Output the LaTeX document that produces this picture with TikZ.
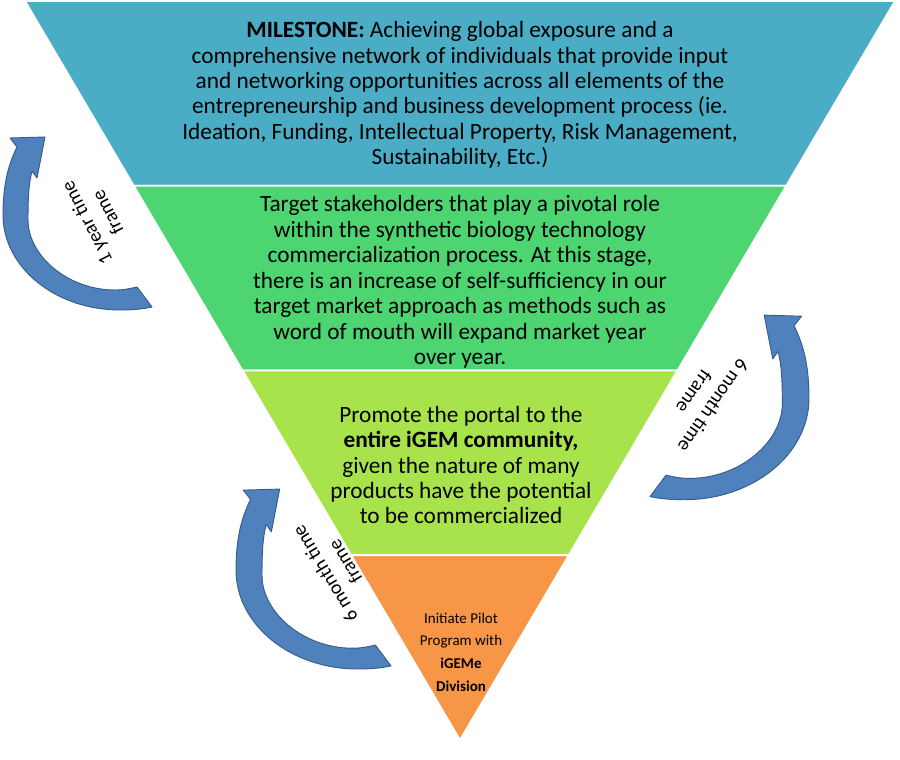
\documentclass[tikz,border=0pt]{standalone}
\usepackage{fontspec}
\setmainfont{Carlito}
\usetikzlibrary{calc}

\definecolor{milestoneblue}{HTML}{4BACC6}
\definecolor{stakegreen}{HTML}{4DD571}
\definecolor{portallime}{HTML}{A9E34B}
\definecolor{pilotorange}{HTML}{F79646}
\definecolor{arrowblue}{HTML}{4F81BD}
\definecolor{arrowedge}{HTML}{385D8A}

\begin{document}
\begin{tikzpicture}[
        x=0.03cm, y=-0.03cm,
        band/.style={draw=white, line width=1.5pt},
        stage/.style={align=center, font=\fontsize{19.9}{21.7}\selectfont},
        pilot/.style={align=center, font=\fontsize{12.8}{19.3}\selectfont},
        timing/.style={align=center, font=\fontsize{16.8}{20}\selectfont},
        turn/.style={fill=arrowblue, draw=arrowedge, line width=0.8pt, line join=round},
        turnarrow/.pic={
            \path[turn] (42,2) -- (7,3) -- (14,12)
                .. controls (5,30) and (0,50) .. (0,80)
                .. controls (0,132) and (52,175) .. (117,175)
                .. controls (130,175) and (140,174) .. (149,172)
                -- (134,152)
                .. controls (125,154) and (120,155) .. (112,155)
                .. controls (64,155) and (25,120) .. (25,85)
                .. controls (25,60) and (26,48) .. (29,36)
                -- (34,43) -- cycle;
        }]
    \useasboundingbox (0,0) rectangle (900,760);
    % funnel corners
    \coordinate (tl) at (25,1);
    \coordinate (tr) at (895,1);
    \coordinate (apex) at (460,740);
    \foreach \f in {25,50,75} {
        \coordinate (l\f) at ($(tl)!0.\f!(apex)$);
        \coordinate (r\f) at ($(tr)!0.\f!(apex)$);
    }
    \path[band, fill=milestoneblue] (tl) -- (tr) -- (r25) -- (l25) -- cycle;
    \path[band, fill=stakegreen] (l25) -- (r25) -- (r50) -- (l50) -- cycle;
    \path[band, fill=portallime] (l50) -- (r50) -- (r75) -- (l75) -- cycle;
    \path[band, fill=pilotorange] (l75) -- (r75) -- (apex) -- cycle;
    % texts
    \node[stage] (milestone) at (460,95) {\textbf{MILESTONE:} Achieving global exposure and a\\
        comprehensive network of individuals that provide input\\
        and networking opportunities across all elements of the\\
        entrepreneurship and business development process (ie.\\
        Ideation, Funding, Intellectual Property, Risk Management,\\
        Sustainability, Etc.)};
    \node[stage] (stakeholders) at (460,282) {Target stakeholders that play a pivotal role\\
        within the synthetic biology technology\\
        commercialization process. At this stage,\\
        there is an increase of self-sufficiency in our\\
        target market approach as methods such as\\
        word of mouth will expand market year\\
        over year.};
    \node[stage] (portal) at (461,465) {Promote the portal to the\\
        \textbf{entire iGEM community,}\\
        given the nature of many\\
        products have the potential\\
        to be commercialized};
    \node[pilot] (pilot) at (461,652) {Initiate Pilot\\Program with\\\textbf{iGEMe}\\\textbf{Division}};
    % time frame arrows
    \pic at (3,135) {turnarrow};
    \pic[xscale=-1.067, yscale=1.067] at (809,313) {turnarrow};
    \pic[scale=1.04] at (236,487) {turnarrow};
    \node[timing, rotate=117] (yearframe) at (97,218) {1 year time\\frame};
    \node[timing, rotate=-125] (monthright) at (704,399) {6 month time\\frame};
    \node[timing, rotate=121] (monthleft) at (335,568) {6 month time\\frame};
\end{tikzpicture}
\end{document}
